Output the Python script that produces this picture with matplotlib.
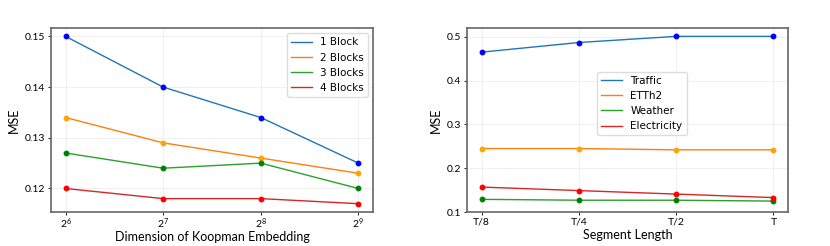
import numpy as np
import matplotlib
matplotlib.use("Agg")
import matplotlib.pyplot as plt

# left panel: koopman embedding dimension vs MSE
embed_dims = [64, 128, 256, 512]
block_labels = ["1 Block", "2 Blocks", "3 Blocks", "4 Blocks"]
mse_1_block = [0.150, 0.140, 0.134, 0.125]
mse_2_blocks = [0.134, 0.129, 0.126, 0.123]
mse_3_blocks = [0.127, 0.124, 0.125, 0.120]
mse_4_blocks = [0.120, 0.118, 0.118, 0.117]

# right panel: segment length vs MSE
seg_labels = ["T/8", "T/4", "T/2", "T"]
dataset_labels = ["Traffic", "ETTh2", "Weather", "Electricity"]
mse_traffic = [0.465, 0.487, 0.501, 0.501]
mse_etth2 = [0.245, 0.245, 0.242, 0.242]
mse_weather = [0.129, 0.127, 0.127, 0.125]
mse_electricity = [0.157, 0.149, 0.141, 0.133]

line_colors = ["tab:blue", "tab:orange", "tab:green", "tab:red"]
marker_colors = ["blue", "orange", "green", "red"]

label_font = "Lato"
spine_color = "#666666"


def style_axes(ax):
    for s in ax.spines.values():
        s.set_color(spine_color)
        s.set_linewidth(1.2)
    ax.grid(True, color="#eeeeee", linewidth=0.6)
    ax.set_axisbelow(True)
    ax.tick_params(length=2, width=0.6, labelsize=7.5, pad=2)
    for lab in ax.get_xticklabels() + ax.get_yticklabels():
        lab.set_fontfamily(label_font)


if __name__ == "__main__":
    plt.rcParams["mathtext.fontset"] = "custom"
    plt.rcParams["mathtext.rm"] = label_font
    plt.rcParams["mathtext.it"] = label_font

    fig = plt.figure(figsize=(8.3, 2.46), dpi=100)
    ax1 = fig.add_axes([0.0614, 0.138, 0.388, 0.748])
    ax2 = fig.add_axes([0.5627, 0.138, 0.3867, 0.748])

    left_series = [mse_1_block, mse_2_blocks, mse_3_blocks, mse_4_blocks]
    for vals, lab, lc, mc in zip(left_series, block_labels, line_colors, marker_colors):
        ax1.plot(embed_dims, vals, color=lc, linewidth=1.0, label=lab)
        ax1.plot(embed_dims, vals, "o", color=mc, markersize=3.2, linestyle="none")
    ax1.set_xscale("log", base=2)
    ax1.set_xticks(embed_dims)
    ax1.set_xticklabels([f"$2^{{{int(np.log2(d))}}}$" for d in embed_dims])
    ax1.minorticks_off()
    ax1.set_yticks([0.12, 0.13, 0.14, 0.15])
    ax1.set_xlabel("Dimension of Koopman Embedding", fontfamily=label_font, fontsize=9, labelpad=0)
    ax1.set_ylabel("MSE", fontfamily=label_font, fontsize=9)
    style_axes(ax1)
    ax1.tick_params(axis="x", pad=1)
    ax1.legend(loc="upper right", fontsize=7.5, framealpha=1.0, edgecolor="#dddddd", fancybox=True)

    xs = np.arange(len(seg_labels))
    right_series = [mse_traffic, mse_etth2, mse_weather, mse_electricity]
    for vals, lab, lc, mc in zip(right_series, dataset_labels, line_colors, marker_colors):
        ax2.plot(xs, vals, color=lc, linewidth=1.0, label=lab)
        ax2.plot(xs, vals, "o", color=mc, markersize=3.2, linestyle="none")
    ax2.set_xticks(xs)
    ax2.set_xticklabels(seg_labels)
    ax2.set_ylim(0.1, 0.52)
    ax2.set_yticks([0.1, 0.2, 0.3, 0.4, 0.5])
    ax2.set_xlabel("Segment Length", fontfamily=label_font, fontsize=9, labelpad=2)
    ax2.set_ylabel("MSE", fontfamily=label_font, fontsize=9)
    style_axes(ax2)
    ax2.legend(loc="center", bbox_to_anchor=(0.545, 0.59), fontsize=7.5,
               framealpha=1.0, edgecolor="#dddddd", fancybox=True)

    fig.savefig("out.png", dpi=100)
